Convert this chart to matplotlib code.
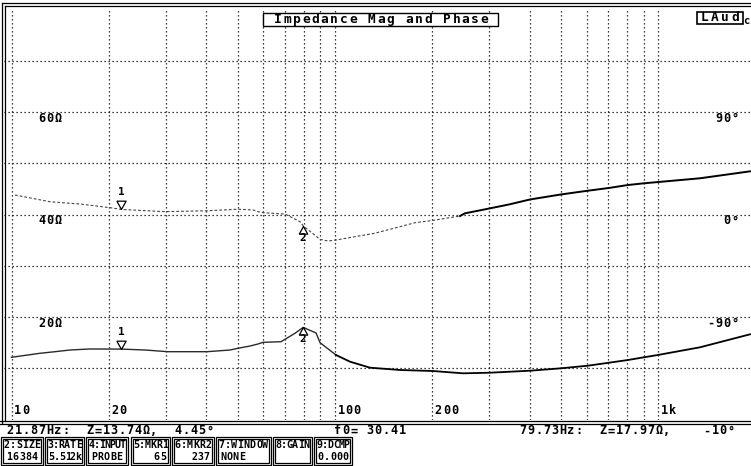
import numpy as np
import matplotlib
matplotlib.use("Agg")
import matplotlib.pyplot as plt
from matplotlib.patches import Rectangle

# -- impedance sweep (Hz, ohm, degrees) --
freq_mag = [10.0, 12.25, 13.63, 15.16, 17.49, 21.87, 25.86, 30.46, 40.2, 47.4,
            50.1, 54.6, 57.8, 59.9, 68.1, 75.2, 79.73, 87.4, 89.9, 100.7,
            111.3, 128.3, 158.8, 200.9, 248.8, 301.4, 400.7, 499.6, 605.3,
            703.0, 805.0, 902.0, 996.5, 1344.0, 1918.0]
mag = [12.14, 12.92, 13.23, 13.56, 13.76, 13.74, 13.56, 13.23, 13.23, 13.56,
       13.89, 14.34, 14.73, 15.06, 15.18, 16.82, 17.97, 16.88, 14.99, 12.59,
       11.28, 10.11, 9.66, 9.46, 9.01, 9.13, 9.52, 9.99, 10.50,
       11.08, 11.61, 12.14, 12.59, 14.09, 16.62]

freq_ph = [10.25, 13.15, 16.28, 20.16, 21.87, 29.8, 40.2, 50.1, 55.8, 57.8,
           59.9, 70.1, 78.0, 79.73, 89.9, 95.1, 100.7, 132.5, 158.8, 176.7,
           200.9, 243.5, 252.0, 301.4, 347.5, 400.7, 499.6, 605.3, 703.0,
           805.0, 902.0, 996.5, 1344.0, 1918.0]
phase = [17.1, 11.2, 9.2, 6.0, 4.45, 2.5, 3.3, 4.6, 4.0, 2.5,
         1.6, 0.4, -6.3, -10.0, -21.8, -23.3, -22.4, -16.5, -10.7, -7.2,
         -5.2, -1.3, 1.0, 5.4, 9.0, 13.2, 17.6, 20.9, 23.3,
         25.9, 27.4, 28.5, 31.8, 37.9]

# markers: frequency, |Z|, phase
mkr1 = (21.87, 13.74, 4.45)
mkr2 = (79.73, 17.97, -10.0)
f0 = 30.41

mag_ticks = [20, 40, 60]
phase_ticks = [-90, 0, 90]
freq_labels = {10: "10", 20: "20", 100: "100", 200: "200", 1000: "1k"}

box_names = ["2:SIZE", "3:RATE", "4:INPUT", "5:MKR1", "6:MKR2", "7:WINDOW", "8:GAIN", "9:DCMP"]
box_values = ["16384", "5.512k", "PROBE", "65", "237", "NONE", "", "0.000"]

W, H = 751, 466
MONO = "DejaVu Sans Mono"


def ph2z(p):
    # phase scale shares the plot: -180..180 deg over 0..80 ohm
    return np.asarray(p) / 4.5 + 40.0


def cells(ax, x, y, s, pitch, size, ha="left", **kw):
    # one glyph per fixed-width cell, like a terminal font
    if ha == "right":
        x -= len(s) * pitch
    elif ha == "center":
        x -= len(s) * pitch / 2
    for i, ch in enumerate(s):
        if ch != " ":
            ax.text(x + (i + 0.5) * pitch, y, ch, ha="center", va="center",
                    fontsize=size, family=MONO, fontweight="bold", **kw)


def main():
    fig = plt.figure(figsize=(W / 100, H / 100), dpi=100)
    fig.patch.set_facecolor("white")

    # plot area in pixels: x 4..751, y 9.5..419.5
    ax = fig.add_axes([4 / W, 1 - 419.5 / H, 747 / W, 410 / H])
    ax.set_xscale("log")
    ax.set_xlim(9.48, 1932)
    ax.set_ylim(0, 80)
    for s in ax.spines.values():
        s.set_visible(False)
    ax.set_xticks([])
    ax.set_yticks([])
    ax.minorticks_off()

    grid_f = [10, 20, 30, 40, 50, 60, 70, 80, 90, 100, 200, 300, 400, 500,
              600, 700, 800, 900, 1000]
    for g in grid_f:
        ax.axvline(g, color="black", lw=0.9, ls=(0, (1, 2.2)))
    for z in range(10, 80, 10):
        ax.axhline(z, color="black", lw=0.9, ls=(0, (1, 2.2)))

    # magnitude: lighter trace below 100 Hz, heavier above
    fm = np.array(freq_mag)
    zm = np.array(mag)
    ax.plot(fm[fm <= 101], zm[fm <= 101], color="#2a2a2a", lw=1.0)
    ax.plot(fm[fm >= 100], zm[fm >= 100], color="black", lw=1.3)

    # phase: dotted below ~240 Hz, solid above
    fp = np.array(freq_ph)
    zp = ph2z(phase)
    lo = fp <= 252
    hi = fp >= 243
    ax.plot(fp[lo], zp[lo], color="#444444", lw=0.8, ls=(0, (2.5, 1.8)))
    ax.plot(fp[hi], zp[hi], color="black", lw=1.4)

    # marker symbols
    tri_down = [(-1, 1.8), (1, 1.8), (0, 0), (-1, 1.8)]
    tri_up = [(-1, -1.8), (1, -1.8), (0, 0), (-1, -1.8)]
    for z in (mkr1[1], ph2z(mkr1[2])):
        ax.plot(mkr1[0], z, marker=tri_down, ms=12, mfc="white", mec="black", mew=0.9)
        ax.annotate("1", (mkr1[0], z), xytext=(0, 9), textcoords="offset points",
                    ha="center", va="bottom", fontsize=8, family=MONO,
                    fontweight="bold")
    for z in (mkr2[1], ph2z(mkr2[2])):
        ax.plot(mkr2[0], z, marker=tri_up, ms=11, mfc="white", mec="black", mew=0.9)
        ax.annotate("2", (mkr2[0], z), xytext=(0, -5), textcoords="offset points",
                    ha="center", va="top", fontsize=8, family=MONO,
                    fontweight="bold")

    # overlay in pixel coordinates for labels, frame, title and status boxes
    ov = fig.add_axes([0, 0, 1, 1], facecolor="none")
    ov.set_xlim(0, W)
    ov.set_ylim(H, 0)
    ov.axis("off")

    def px(f, z):
        return ov.transData.inverted().transform(ax.transData.transform((f, z)))

    for z in mag_ticks:
        x, y = px(10, z)
        cells(ov, 38, y + 6.5, "%d\u03a9" % z, 8, 8.6)
    for p in phase_ticks:
        x, y = px(10, ph2z(p))
        cells(ov, 739, y + 6.5, "%d\u00b0" % p, 8, 8.6, ha="right")
    for f, t in freq_labels.items():
        x, y = px(f, 0)
        cells(ov, x + 2, 411, t, 8, 8.6)

    k = dict(color="black", lw=0.9)
    ov.plot([2, 2], [3, 423], **k)
    ov.plot([5, 5], [6, 421], **k)
    ov.plot([2, W], [3, 3], **k)
    ov.plot([5, W], [6, 6], **k)
    ov.plot([0, W], [421, 421], **k)
    ov.plot([0, W], [424, 424], **k)

    ov.add_patch(Rectangle((263, 12.5), 235, 13.5, fill=True, fc="white", ec="black",
                           lw=1.0, zorder=3))
    cells(ov, 273, 19.5, "Impedance Mag and Phase", 9.4, 9.3, zorder=4)
    ov.add_patch(Rectangle((697, 11.5), 46, 12, fill=True, fc="white", ec="black",
                           lw=1.2, zorder=3))
    cells(ov, 720, 17.5, "LAud", 10, 9.3, ha="center", zorder=4)
    cells(ov, 743, 20.5, "c", 7, 7.5)

    cells(ov, 6, 431, "%.2fHz:  Z=%.2f\u03a9,  %.2f\u00b0" % mkr1, 8, 8.6)
    cells(ov, 334, 431, "f0= %.2f" % f0, 8, 8.6)
    cells(ov, 735, 431, "%.2fHz:  Z=%.2f\u03a9,    %d\u00b0" % mkr2, 8, 8.6,
          ha="right")

    edges = [(1, 43), (45, 84), (86, 128), (131, 170), (172, 214), (216, 271),
             (273, 312), (314, 352)]
    align = ["center", "left", "center", "right", "right", "left", "center", "center"]
    for (x0, x1), name, val, a in zip(edges, box_names, box_values, align):
        ov.add_patch(Rectangle((x0, 437), x1 - x0, 28, fill=False, ec="black", lw=0.9))
        ov.add_patch(Rectangle((x0 + 2, 439), x1 - x0 - 4, 24, fill=False, ec="black",
                               lw=0.9))
        p = min(6.3, (x1 - x0 - 5) / len(name))
        cells(ov, (x0 + x1) / 2, 445.5, name, p, 7.2, ha="center")
        vp = min(6.3, (x1 - x0 - 7) / max(len(val), 1))
        vx = {"center": (x0 + x1) / 2, "left": x0 + 4, "right": x1 - 4}[a]
        cells(ov, vx, 457, val, vp, 7.2, ha=a)

    fig.savefig("out.png", dpi=100, facecolor="white")


if __name__ == "__main__":
    main()
